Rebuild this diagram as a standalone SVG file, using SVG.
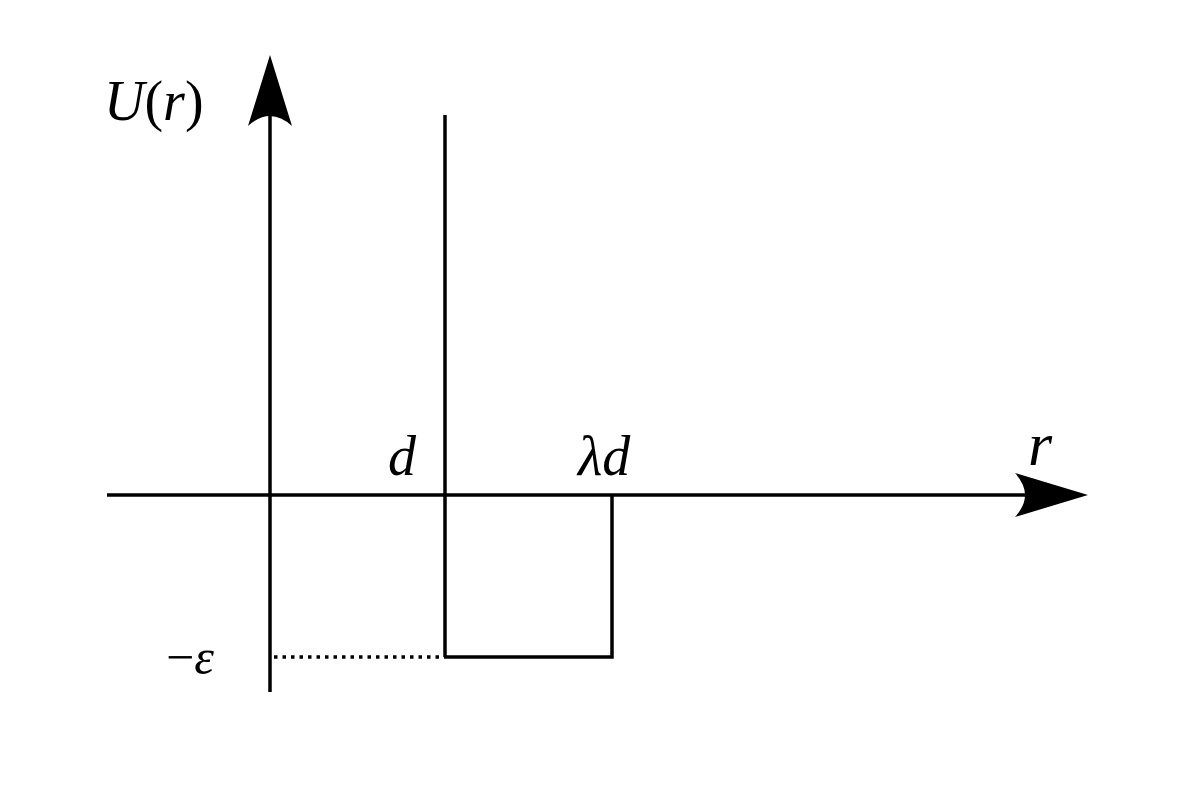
<svg xmlns="http://www.w3.org/2000/svg" width="1181" height="791" viewBox="0 0 1181 791">
<style>
.l{stroke:#000;stroke-width:3.5;fill:none}
.t{font-family:"Liberation Serif",serif;font-style:italic;fill:#000}
</style>
<rect width="1181" height="791" fill="#fff"/>
<g id="connectors">
<line class="l" x1="107" y1="495" x2="1040" y2="495"/>
<path d="M1088,495 L1015,473 Q1035,495 1015,517 Z" fill="#000"/>
<line class="l" x1="270" y1="692" x2="270" y2="100"/>
<path d="M270,55 L248,126 Q270,106 292,126 Z" fill="#000"/>
<line class="l" x1="445" y1="115" x2="445" y2="657"/>
<polyline class="l" points="445,657 612,657 612,495"/>
<line x1="274" y1="657" x2="445" y2="657" stroke="#000" stroke-width="3.5" stroke-dasharray="3.5,5"/>
</g>
<g id="labels">
<text class="t" x="104" y="120" font-size="56">U<tspan font-style="normal">(</tspan>r<tspan font-style="normal">)</tspan></text>
<text class="t" x="388" y="475" font-size="56">d</text>
<text class="t" x="578" y="475" font-size="56">λd</text>
<text class="t" x="1028" y="465" font-size="62">r</text>
<text class="t" x="166" y="674" font-size="50"><tspan font-style="normal">−</tspan>ε</text>
</g>
</svg>
